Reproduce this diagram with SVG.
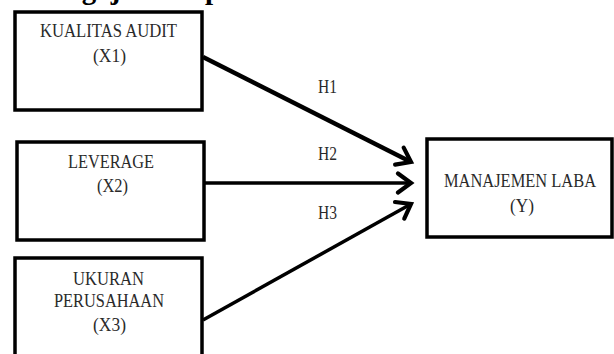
<svg xmlns="http://www.w3.org/2000/svg" width="614" height="354" viewBox="0 0 614 354">
<style>
.box{fill:#fff;stroke:#000;stroke-width:3.5}
.t{font-family:"Liberation Serif","Times New Roman",serif;font-size:18px;fill:#2a2a2a;text-anchor:middle}
.c{stroke:#000;fill:none}
.h{font-family:"Liberation Serif","Times New Roman",serif;font-weight:bold;font-size:29px;fill:#000}
</style>
<defs>
<marker id="ah" markerUnits="userSpaceOnUse" viewBox="-18 -12 22 24" refX="0" refY="0" markerWidth="22" markerHeight="24" orient="auto">
<path d="M-13,-9.5 L0,0 L-13,9.5" fill="none" stroke="#000" stroke-width="4.2" stroke-linecap="round" stroke-linejoin="miter"/>
</marker>
</defs>
<text class="h" x="35" y="-1">Pengajuan Hipotesis</text>
<g id="x1"><rect class="box" x="15" y="12" width="187" height="98"/><text class="t" x="108.5" y="37" textLength="137" lengthAdjust="spacingAndGlyphs">KUALITAS AUDIT</text><text class="t" x="109.5" y="62" textLength="33" lengthAdjust="spacingAndGlyphs">(X1)</text></g>
<g id="x2"><rect class="box" x="17" y="142" width="187" height="98"/><text class="t" x="111" y="168" textLength="86" lengthAdjust="spacingAndGlyphs">LEVERAGE</text><text class="t" x="112.5" y="192" textLength="31" lengthAdjust="spacingAndGlyphs">(X2)</text></g>
<g id="x3"><rect class="box" x="15" y="258" width="187" height="110"/><text class="t" x="108.5" y="285" textLength="71" lengthAdjust="spacingAndGlyphs">UKURAN</text><text class="t" x="109" y="307" textLength="110" lengthAdjust="spacingAndGlyphs">PERUSAHAAN</text><text class="t" x="109.5" y="331" textLength="33" lengthAdjust="spacingAndGlyphs">(X3)</text></g>
<g id="y"><rect class="box" x="427" y="139" width="185" height="98"/><text class="t" x="520" y="187" textLength="152" lengthAdjust="spacingAndGlyphs">MANAJEMEN LABA</text><text class="t" x="522" y="212" textLength="24" lengthAdjust="spacingAndGlyphs">(Y)</text></g>
<g id="connectors">
<line class="c" x1="203" y1="57" x2="411" y2="162" stroke-width="4.5" marker-end="url(#ah)"/>
<line class="c" x1="203" y1="183" x2="411" y2="183" stroke-width="3.5" marker-end="url(#ah)"/>
<line class="c" x1="203" y1="320" x2="411" y2="204" stroke-width="3.5" marker-end="url(#ah)"/>
<text class="t" x="327.5" y="93" textLength="19" lengthAdjust="spacingAndGlyphs">H1</text>
<text class="t" x="327.5" y="160" textLength="19" lengthAdjust="spacingAndGlyphs">H2</text>
<text class="t" x="327.5" y="219" textLength="19" lengthAdjust="spacingAndGlyphs">H3</text>
</g>
</svg>
